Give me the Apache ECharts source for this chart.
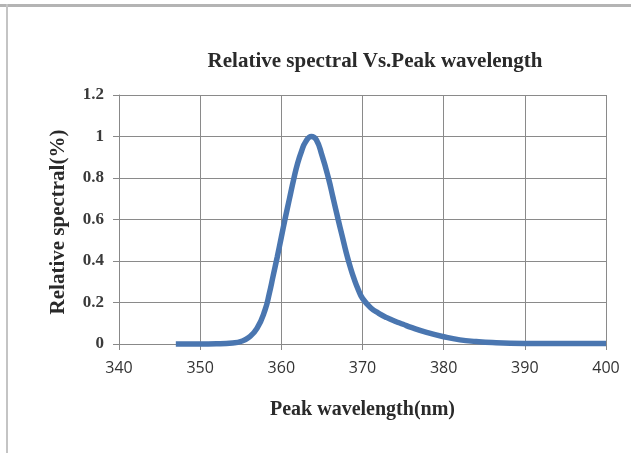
<!DOCTYPE html>
<html><head><meta charset="utf-8">
<script src="https://cdn.jsdelivr.net/npm/echarts@6/dist/echarts.min.js"></script>
<style>html,body{margin:0;padding:0;background:#fff;}#c{width:631px;height:453px;}</style>
</head><body><div id="c"></div>
<script>
const titleText = 'Relative spectral Vs.Peak wavelength';
const xName = 'Peak wavelength(nm)';
const yName = 'Relative spectral(%)';
const wavelengths = [347,350,352,354,355,356,357,358,358.5,359,359.5,360,360.5,361,361.5,362,362.5,363,363.7,364.3,365,365.8,366.4,367,367.5,368,368.5,369,369.5,370,371,372,373,374,375,376,378,380,382,384,386,390,395,400];
const relSpectral = [0,0,0.001,0.005,0.012,0.032,0.075,0.165,0.24,0.33,0.42,0.515,0.61,0.70,0.79,0.87,0.93,0.975,1.0,0.985,0.91,0.80,0.70,0.60,0.52,0.44,0.37,0.31,0.26,0.22,0.175,0.148,0.127,0.11,0.095,0.08,0.055,0.035,0.02,0.012,0.007,0.003,0.002,0.002];
const xTicks = [340,350,360,370,380,390,400];
const yTicks = [0,0.2,0.4,0.6,0.8,1,1.2];

const serifBold = {fontFamily:'Liberation Serif',fontWeight:'bold',color:'#2a2a2a'};
const chart = echarts.init(document.getElementById('c'));
chart.setOption({
  animation:false,
  backgroundColor:'#fff',
  title:{text:titleText,left:370,top:46,textAlign:'center',
    textStyle:Object.assign({fontSize:21},serifBold)},
  graphic:[
    {type:'rect',shape:{x:0,y:4,width:631,height:3},style:{fill:'#b4b4b4'}},
    {type:'rect',shape:{x:6,y:4,width:2,height:449},style:{fill:'#c4c4c4'}},
    {type:'text',x:59,y:222,rotation:Math.PI/2,
      style:Object.assign({text:yName,fontSize:21,align:'center',verticalAlign:'middle',fill:'#2a2a2a'},
        {fontFamily:'Liberation Serif',fontWeight:'bold'})}
  ],
  grid:{left:119,right:25,top:95,bottom:109},
  xAxis:{type:'value',min:340,max:400,interval:10,
    name:xName,nameLocation:'middle',nameGap:56,
    nameTextStyle:Object.assign({fontSize:20},serifBold),
    axisLine:{lineStyle:{color:'#888'}},
    axisTick:{show:true,length:6,lineStyle:{color:'#888'}},
    axisLabel:{fontFamily:'Open Sans',fontSize:16,color:'#333',margin:16,
      formatter:v=>xTicks.includes(v)?String(v):''},
    splitLine:{show:true,lineStyle:{color:'#8a8a8a',width:1}}},
  yAxis:{type:'value',min:0,max:1.2,interval:0.2,
    axisLine:{show:true,lineStyle:{color:'#888'}},
    axisTick:{show:true,length:6,lineStyle:{color:'#888'}},
    axisLabel:{fontFamily:'Liberation Serif',fontWeight:'bold',fontSize:17,color:'#3a3a3a',margin:15,
      formatter:v=>{const t=yTicks.find(k=>Math.abs(k-v)<1e-9);return t===undefined?'':String(t);}},
    splitLine:{show:true,lineStyle:{color:'#8a8a8a',width:1}}},
  series:[{type:'line',data:wavelengths.map((w,i)=>[w,relSpectral[i]]),
    smooth:0.5,showSymbol:false,lineStyle:{color:'#4a76b0',width:5.5},clip:false}]
});
</script></body></html>
